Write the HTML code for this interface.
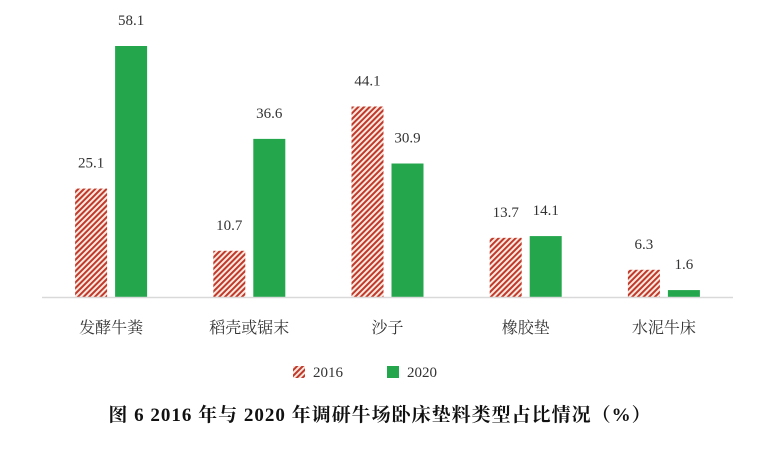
<!DOCTYPE html>
<html><head><meta charset="utf-8"><style>
body{margin:0;background:#fff;}
svg text{font-family:"Liberation Serif","Noto Serif CJK SC",serif;}
</style></head><body>
<svg width="761" height="447" viewBox="0 0 761 447">
<defs>
<pattern id="hatch" patternUnits="userSpaceOnUse" width="4" height="4" patternTransform="rotate(45)">
<rect width="4" height="4" fill="#fbe9e0"/>
<rect width="2" height="4" fill="#c0392b"/>
</pattern>
</defs>
<g id="bars"></g>
<line x1="42" y1="297.5" x2="733" y2="297.5" stroke="#d9d9d9" stroke-width="1.5"/>
<g id="labels"></g>
<g>
<rect x="293" y="366" width="12" height="12" fill="url(#hatch)"/>
<text x="313" y="377" font-size="15" fill="#333">2016</text>
<rect x="387" y="366" width="12" height="12" fill="#23a64c"/>
<text x="407" y="377" font-size="15" fill="#333">2020</text>
</g>
<text x="380" y="421" text-anchor="middle" font-size="19" font-weight="bold" fill="#111" letter-spacing="1">图 6  2016 年与 2020 年调研牛场卧床垫料类型占比情况（%）</text>
</svg>
<script>
const categories=["发酵牛粪","稻壳或锯末","沙子","橡胶垫","水泥牛床"];
const values2016=[25.1,10.7,44.1,13.7,6.3];
const values2020=[58.1,36.6,30.9,14.1,1.6];
const ns="http://www.w3.org/2000/svg";
const x0=42,x1=733,base=297,scale=4.32,bw=32;
const gw=(x1-x0)/categories.length;
const y=v=>base-v*scale;
const bars=document.getElementById('bars'),labels=document.getElementById('labels');
function mk(tag,attrs,parent){const e=document.createElementNS(ns,tag);for(const k in attrs)e.setAttribute(k,attrs[k]);parent.appendChild(e);return e;}
categories.forEach((c,i)=>{
  const cx=x0+gw*(i+0.5);
  [[values2016[i],cx-bw-4,'url(#hatch)','2016'],[values2020[i],cx+4,'#23a64c','2020']].forEach(([v,x,f,s])=>{
    const r=mk('rect',{x:x,y:y(v),width:bw,height:v*scale,fill:f},bars);
    
    
    const t=mk('text',{x:x+bw/2,y:y(v)-21,'text-anchor':'middle','font-size':'15',fill:'#333'},labels);
    t.textContent=v.toFixed(1);
    
    
  });
  const t=mk('text',{x:cx,y:333,'text-anchor':'middle','font-size':'16',fill:'#333'},labels);
  t.textContent=c;
  
  
});
</script>
</body></html>
